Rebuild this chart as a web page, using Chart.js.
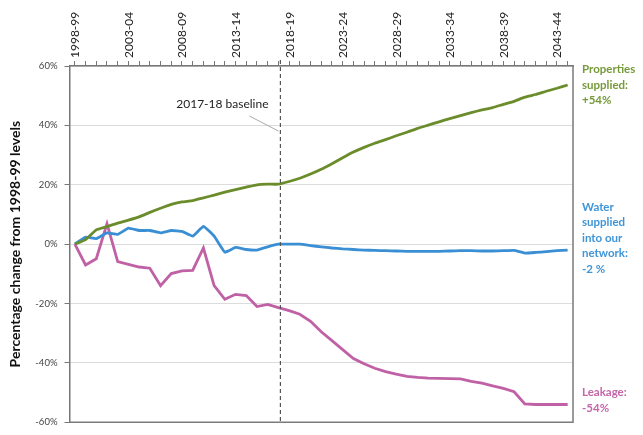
<!DOCTYPE html>
<html>
<head>
<meta charset="utf-8">
<script src="https://cdn.jsdelivr.net/npm/chart.js@4"></script>
<style>
html,body{margin:0;padding:0;background:#fff;}
#wrap{width:643px;height:435px;position:relative;}
</style>
</head>
<body>
<div id="wrap"><canvas id="c" width="643" height="435"></canvas></div>
<script>
// ---- data ----
const years = ['1998-99','1999-00','2000-01','2001-02','2002-03','2003-04','2004-05','2005-06','2006-07','2007-08',
  '2008-09','2009-10','2010-11','2011-12','2012-13','2013-14','2014-15','2015-16','2016-17','2017-18',
  '2018-19','2019-20','2020-21','2021-22','2022-23','2023-24','2024-25','2025-26','2026-27','2027-28',
  '2028-29','2029-30','2030-31','2031-32','2032-33','2033-34','2034-35','2035-36','2036-37','2037-38',
  '2038-39','2039-40','2040-41','2041-42','2042-43','2043-44','2044-45'];
const shownTickLabels = ['1998-99','2003-04','2008-09','2013-14','2018-19','2023-24','2028-29','2033-34','2038-39','2043-44'];
const propertiesSupplied = [0, 1.5, 4.8, 5.9, 7.1, 8.1, 9.2, 10.7, 12.1, 13.4, 14.2, 14.7, 15.6, 16.5, 17.5, 18.4, 19.2, 20.0, 20.2, 20.2,
  21.1, 22.2, 23.6, 25.2, 27.1, 29.1, 31.0, 32.6, 34.0, 35.2, 36.5, 37.7, 39.0, 40.1, 41.2, 42.3, 43.3, 44.3, 45.2, 46.0,
  47.1, 48.1, 49.5, 50.4, 51.5, 52.5, 53.6];
const waterSupplied = [0, 2.4, 1.9, 3.8, 3.3, 5.4, 4.6, 4.6, 3.8, 4.6, 4.3, 2.7, 6.0, 2.7, -2.7, -1.1, -1.8, -2.0, -0.9, 0,
  0, 0, -0.5, -0.9, -1.3, -1.6, -1.8, -2.0, -2.1, -2.2, -2.3, -2.4, -2.4, -2.4, -2.4, -2.3, -2.2, -2.2, -2.3, -2.3,
  -2.2, -2.1, -3.0, -2.8, -2.5, -2.2, -2.0];
const leakage = [0, -7.0, -4.9, 6.9, -5.9, -6.8, -7.7, -8.1, -14.0, -9.9, -9.0, -8.8, -1.3, -14.0, -18.6, -16.9, -17.3, -21.0, -20.3, -21.4,
  -22.4, -23.6, -26.0, -29.5, -32.5, -35.5, -38.5, -40.3, -41.8, -42.9, -43.8, -44.5, -44.9, -45.1, -45.2, -45.3, -45.4, -46.2, -46.8, -47.7,
  -48.6, -49.7, -53.8, -54.0, -54.0, -54.0, -54.0];
const yTicks = [60, 40, 20, 0, -20, -40, -60];
const baselineYear = '2017-18';
const baselineText = '2017-18 baseline';
const yTitle = 'Percentage change from 1998-99 levels';
const endLabels = [
  {lines:['Properties','supplied:','+54%'], series:0, color:'#779a3a', dy:0},
  {lines:['Water','supplied','into our','network:','-2 %'], series:1, color:'#3f95d8', dy:-12},
  {lines:['Leakage:','-54%'], series:2, color:'#c466a9', dy:-4}
];

const FONT = 'Lato, "Open Sans", "Liberation Sans", sans-serif';

const decor = {
  id:'decor',
  afterDraw(chart){
    const ctx = chart.ctx, a = chart.chartArea;
    const xs = chart.scales.x, ys = chart.scales.y;
    ctx.save();
    // frame right & bottom
    ctx.strokeStyle = '#7a7a7a'; ctx.lineWidth = 1.5;
    ctx.beginPath();
    ctx.moveTo(a.right, a.top); ctx.lineTo(a.right, a.bottom); ctx.lineTo(a.left, a.bottom);
    ctx.stroke();
    // baseline dashed
    const bx = xs.getPixelForValue(years.indexOf(baselineYear)) + 2;
    ctx.strokeStyle = '#555'; ctx.lineWidth = 1.2; ctx.setLineDash([4,3]);
    ctx.beginPath(); ctx.moveTo(bx, a.top - 6); ctx.lineTo(bx, a.bottom); ctx.stroke();
    ctx.setLineDash([]);
    // leader
    ctx.strokeStyle = '#aaa'; ctx.lineWidth = 1;
    ctx.beginPath(); ctx.moveTo(bx - 31, a.top + 50); ctx.lineTo(bx - 2, a.top + 65); ctx.stroke();
    ctx.fillStyle = '#222'; ctx.font = '12px ' + FONT; ctx.textAlign = 'center'; ctx.textBaseline = 'middle';
    ctx.fillText(baselineText, bx - 58, a.top + 38);
    // end labels
    ctx.font = 'bold 11.5px ' + FONT; ctx.textAlign = 'left';
    endLabels.forEach(l => {
      const ds = chart.data.datasets[l.series].data;
      const py = ys.getPixelForValue(ds[ds.length-1]) + l.dy;
      const lh = 15.5;
      const y0 = py - (l.lines.length - 1) * lh / 2;
      ctx.fillStyle = l.color;
      l.lines.forEach((t,i) => ctx.fillText(t, a.right + 9, y0 + i*lh));
    });
    ctx.restore();
  }
};

new Chart(document.getElementById('c'), {
  type:'line',
  data:{
    labels: years,
    datasets:[
      {label:'Properties supplied', data:propertiesSupplied, borderColor:'#6b8c2b', borderWidth:2.8, pointRadius:0, tension:0.15},
      {label:'Water supplied into our network', data:waterSupplied, borderColor:'#3a8fd4', borderWidth:2.8, pointRadius:0, tension:0.1},
      {label:'Leakage', data:leakage, borderColor:'#c061a6', borderWidth:2.8, pointRadius:0, tension:0}
    ]
  },
  options:{
    responsive:false, animation:false,
    layout:{padding:{left:4, right:70, top:4, bottom:5}},
    plugins:{legend:{display:false}, tooltip:{enabled:false}},
    scales:{
      x:{
        position:'top', offset:true,
        afterFit(s){ s.height = 62; },
        grid:{drawOnChartArea:false, drawTicks:true, tickLength:5, color:'#777', lineWidth:1},
        border:{color:'#777', width:1.5},
        ticks:{autoSkip:false, minRotation:90, maxRotation:90, padding:3, color:'#222', labelOffset:15,
          font:{family:FONT, size:12},
          callback(v, i){ const l = years[i]; return shownTickLabels.includes(l) ? l : ''; }}
      },
      y:{
        min:-60, max:60,
        afterFit(s){ s.width = 65.5; },
        afterBuildTicks(s){ s.ticks = yTicks.map(v => ({value:v})); },
        grid:{color:'#dcdcdc', lineWidth:1, tickLength:5, drawTicks:true, tickColor:'#777'},
        border:{color:'#777', width:1.5},
        ticks:{padding:7, color:'#444', font:{family:FONT, size:9.5}, callback:v => v + '%'},
        title:{display:true, text:yTitle, color:'#111', font:{family:FONT, size:14, weight:'bold'}, padding:{top:3, bottom:2}}
      }
    }
  },
  plugins:[decor]
});
</script>
</body>
</html>
